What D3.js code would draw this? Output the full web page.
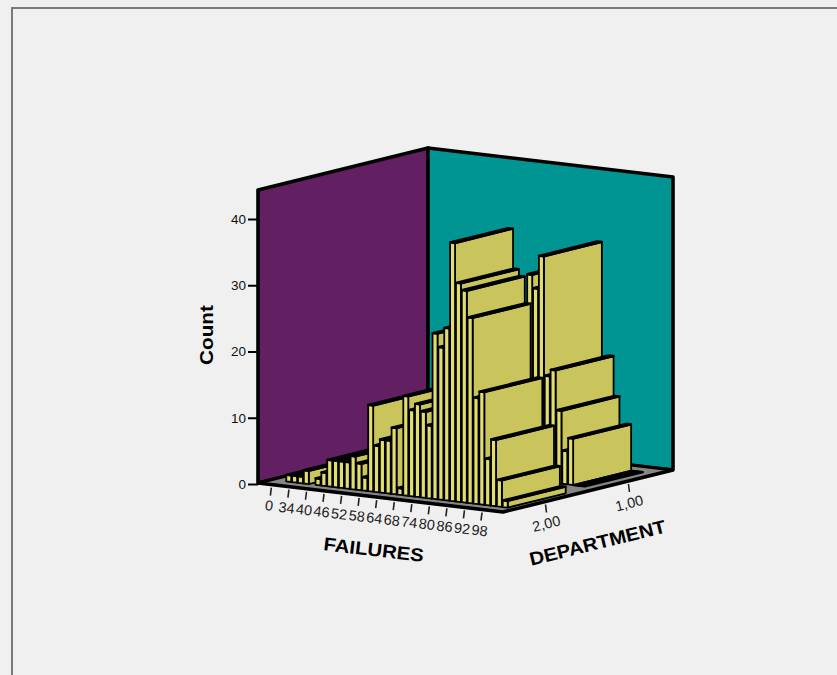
<!DOCTYPE html>
<html>
<head>
<meta charset="utf-8">
<style>
html,body{margin:0;padding:0;background:#f0f0f0;}
svg{display:block;font-family:"Liberation Sans",Arial,sans-serif;}
</style>
<script src="https://cdn.jsdelivr.net/npm/d3@7"></script>
</head>
<body>
<svg id="chart" width="837" height="675"></svg>
<script>
// Failure counts on the horizontal axis; every third one carries a label.
const failures = [0,30,32,34,36,38,40,42,44,46,48,50,52,54,56,58,60,62,64,65,66,68,70,72,74,76,78,80,82,84,86,88,90,92,94,96,98,100,102];
const departments = ["2,00","1,00"];
const countTicks = [0,10,20,30,40];

// Bar heights per failure value; null means no bar was drawn for that pair.
const countsDept2 = [null,1,1,1,2,null,1,2,4,4,4,4,5,4,2,13,7,8,8,10,1,15,13,14,13,11,25,23,26,39,33,32,28,16,17,7,10,4,1];
const countsDept1 = [null,null,null,null,null,null,null,null,null,null,null,null,null,null,null,null,null,null,null,null,null,null,null,null,null,null,null,null,31,29,34,16,17,11,5,7,0,0,null];

// Floor plan of the oblique box: left corner plus the two ground vectors.
const origin = {x:258, y:483};
const failuresSlope = 29/245;
const departmentSlope = -42/170;
const floorWidth = 245, floorDepth = 170;

const colors = {wallLeft:"#621f62", wallRight:"#009593", floor:"#858585", front:"#e2de6e", side:"#c9c55c", top:"#c9c55c"};

const svg = d3.select("#chart");
const x = d3.scaleBand().domain(failures).range([8.9,236.2]).paddingInner(0.15).paddingOuter(0).align(0);
const d = d3.scaleBand().domain(departments).range([0,168]).paddingInner(0.301).paddingOuter(0.163);
const y = d3.scaleLinear().domain([0,40]).range([484,219]);
const rise = v => y(0) - y(v);
const wallHeight = 293;

// Ground coordinates (along failures, along department) and a height to screen.
const project = (a,b,h=0) => [origin.x + a + b, origin.y + a*failuresSlope + b*departmentSlope - h];
const path = pts => "M" + pts.map(p => p.join(",")).join("L") + "Z";
const open = pts => "M" + pts.map(p => p.join(",")).join("L");

// Page frame
svg.append("path").attr("d","M12,675V8H837").attr("fill","none").attr("stroke","#7a7a7a").attr("stroke-width",2);

// Walls and floor
const box = svg.append("g").attr("stroke","#000").attr("stroke-linejoin","round");
box.append("path").attr("fill",colors.wallLeft).attr("stroke-width",3.6)
  .attr("d",path([project(0,0,wallHeight),project(0,floorDepth,wallHeight),project(0,floorDepth),project(0,0)]));
box.append("path").attr("fill",colors.wallRight).attr("stroke-width",3.6)
  .attr("d",path([project(0,floorDepth,wallHeight),project(floorWidth,floorDepth,wallHeight),project(floorWidth,floorDepth),project(0,floorDepth)]));
box.append("path").attr("fill",colors.floor).attr("stroke","none")
  .attr("d",path([project(0,0),project(0,floorDepth),project(floorWidth,floorDepth),project(floorWidth,0)]));
box.append("path").attr("fill","none").attr("stroke-width",3.6)
  .attr("d",open([project(0,0),project(floorWidth,0),project(floorWidth,floorDepth)]));
box.append("path").attr("fill","none").attr("stroke-width",3)
  .attr("d",open([project(0,0),project(0,floorDepth),project(floorWidth,floorDepth)]));

// Bars, painted from the far row to the near row and from low to high failures
const bars = [];
[["1,00",countsDept1],["2,00",countsDept2]].forEach(([dep,vals]) => {
  vals.forEach((v,i) => { if (v !== null) bars.push({dep, fail:failures[i], v}); });
});
const barG = svg.append("g").selectAll("g").data(bars).join("g")
  .attr("stroke","#000").attr("stroke-linejoin","round");
barG.each(function(b){
  const g = d3.select(this);
  const a0 = x(b.fail), a1 = a0 + x.bandwidth();
  const b0 = d(b.dep), b1 = b0 + d.bandwidth();
  const h = rise(b.v);
  if (h > 0) {
    g.append("path").attr("fill",colors.side).attr("stroke-width",1.8)
      .attr("d",path([project(a1,b0,h),project(a1,b1,h),project(a1,b1),project(a1,b0)]));
    g.append("path").attr("fill",colors.front).attr("stroke-width",1.8)
      .attr("d",path([project(a0,b0,h),project(a1,b0,h),project(a1,b0),project(a0,b0)]));
  }
  g.append("path").attr("fill",colors.top).attr("stroke-width",2.3)
    .attr("d",path([project(a0,b0,h),project(a1,b0,h),project(a1,b1,h),project(a0,b1,h)]));
});

// Count axis along the left wall edge
const yAxis = d3.axisLeft(y).tickValues(countTicks).tickSize(10).tickPadding(2);
const yG = svg.append("g").attr("transform",`translate(${origin.x},0)`).call(yAxis);
yG.select(".domain").remove();
yG.selectAll("line").attr("stroke","#000").attr("stroke-width",2);
yG.selectAll("text").attr("font-size",13.5).attr("font-family","Liberation Sans").attr("fill","#111");

// Failures ticks and labels follow the front-left floor edge
const failAngle = Math.atan(failuresSlope)*180/Math.PI;
const labelled = failures.filter((_,i) => i % 3 === 0 && i <= 36);
const failTicks = svg.append("g").selectAll("g").data(labelled).join("g")
  .attr("transform",f => { const p = project(x(f)+x.bandwidth()/2+2,0); return `translate(${p[0]},${p[1]})`; });
failTicks.append("line").attr("x1",0).attr("y1",3).attr("x2",-1).attr("y2",11).attr("stroke","#222").attr("stroke-width",1.6);
failTicks.append("text").attr("transform",`translate(-3,26) rotate(${failAngle})`).attr("text-anchor","middle")
  .attr("font-size",14.5).attr("fill","#222").text(f => f);

// Department ticks and labels follow the front-right floor edge
const depAngle = Math.atan(departmentSlope)*180/Math.PI;
const depTicks = svg.append("g").selectAll("g").data(departments).join("g")
  .attr("transform",v => { const p = project(floorWidth,d(v)+d.bandwidth()/2); return `translate(${p[0]},${p[1]})`; });
depTicks.append("line").attr("x1",0).attr("y1",3).attr("x2",1).attr("y2",11).attr("stroke","#222").attr("stroke-width",1.6);
depTicks.append("text").attr("transform",`translate(2,27) rotate(${depAngle})`).attr("text-anchor","middle")
  .attr("font-size",14.5).attr("fill","#222").text(v => v);

// Axis titles, slightly widened
svg.append("text").attr("transform","translate(213,335) rotate(-90) scale(1.12,1)").attr("text-anchor","middle")
  .attr("font-size",18.5).attr("font-weight","bold").text("Count");
svg.append("text").attr("transform",`translate(373,556) rotate(${failAngle}) scale(1.1,1)`).attr("text-anchor","middle")
  .attr("font-size",18.5).attr("font-weight","bold").text("FAILURES");
svg.append("text").attr("transform",`translate(599,549) rotate(${depAngle}) scale(1.1,1)`).attr("text-anchor","middle")
  .attr("font-size",18.5).attr("font-weight","bold").text("DEPARTMENT");
</script>
</body>
</html>
